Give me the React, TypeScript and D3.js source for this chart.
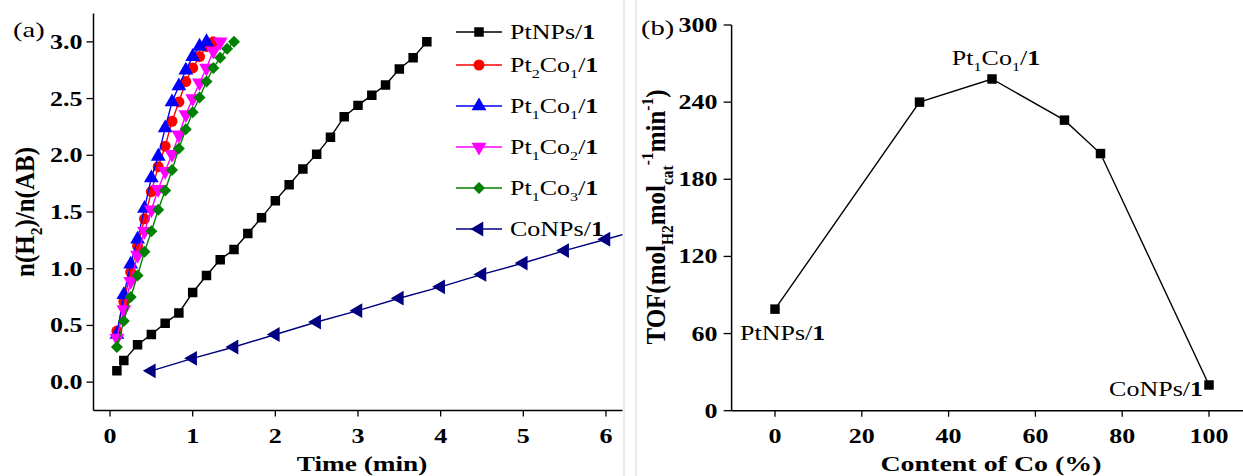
import * as d3 from "d3";
import type { ReactNode } from "react";

const W = 1243;
const H = 476;
const FONT = "'Liberation Serif', 'Times New Roman', serif";
const STRETCH = 1.3; // the source figure is stretched horizontally
const STRETCH_ROT = 1.1; // rotated titles look less squashed

// ---- panel (a): n(H2)/n(AB) vs time ----
const timeFast = [0.083, 0.167, 0.25, 0.333, 0.417, 0.5, 0.583, 0.667, 0.75, 0.833, 0.917, 1.0, 1.083, 1.167, 1.25, 1.333, 1.417, 1.5];
const timePt = [0.083, 0.167, 0.333, 0.5, 0.667, 0.833, 1.0, 1.167, 1.333, 1.5, 1.667, 1.833, 2.0, 2.167, 2.333, 2.5, 2.667, 2.833, 3.0, 3.167, 3.333, 3.5, 3.667, 3.833];
const timeCo = [0.5, 1.0, 1.5, 2.0, 2.5, 3.0, 3.5, 4.0, 4.5, 5.0, 5.5, 6.0, 6.5];

const ptNPs = [0.1, 0.19, 0.33, 0.42, 0.52, 0.61, 0.79, 0.94, 1.08, 1.17, 1.31, 1.45, 1.6, 1.74, 1.88, 2.01, 2.16, 2.34, 2.44, 2.53, 2.62, 2.76, 2.86, 3.0];
const pt2co1 = [0.45, 0.71, 0.97, 1.2, 1.44, 1.68, 1.9, 2.08, 2.3, 2.47, 2.65, 2.77, 2.87, 2.96, 3.0];
const pt1co1 = [0.42, 0.77, 1.04, 1.26, 1.53, 1.8, 1.99, 2.24, 2.47, 2.61, 2.75, 2.87, 2.96, 3.0];
const pt1co2 = [0.39, 0.64, 0.89, 1.12, 1.33, 1.52, 1.7, 1.86, 2.01, 2.18, 2.36, 2.5, 2.64, 2.77, 2.92, 3.0];
const pt1co3 = [0.31, 0.54, 0.75, 0.94, 1.15, 1.33, 1.52, 1.69, 1.87, 2.06, 2.23, 2.38, 2.51, 2.65, 2.77, 2.86, 2.94, 3.0];
const coNPs = [0.1, 0.21, 0.31, 0.42, 0.53, 0.63, 0.74, 0.84, 0.95, 1.05, 1.16, 1.26, 1.36];

const xTicksA = [0, 1, 2, 3, 4, 5, 6];
const yTicksA = [0, 0.5, 1.0, 1.5, 2.0, 2.5, 3.0];

// ---- panel (b): TOF vs Co content ----
const coContent = [0, 33.3, 50, 66.7, 75, 100];
const tof = [79, 240, 258, 226, 200, 20];
const xTicksB = [0, 20, 40, 60, 80, 100];
const yTicksB = [0, 60, 120, 180, 240, 300];

type Part = [string, ("sub" | "sup" | "b")?];

const series = [
  { label: [["PtNPs/"], ["1", "b"]] as Part[], color: "#000000", shape: "square", t: timePt, v: ptNPs },
  { label: [["Pt"], ["2", "sub"], ["Co"], ["1", "sub"], ["/"], ["1", "b"]] as Part[], color: "#ff0000", shape: "circle", t: timeFast, v: pt2co1 },
  { label: [["Pt"], ["1", "sub"], ["Co"], ["1", "sub"], ["/"], ["1", "b"]] as Part[], color: "#0000ff", shape: "up", t: timeFast, v: pt1co1 },
  { label: [["Pt"], ["1", "sub"], ["Co"], ["2", "sub"], ["/"], ["1", "b"]] as Part[], color: "#ff00ff", shape: "down", t: timeFast, v: pt1co2 },
  { label: [["Pt"], ["1", "sub"], ["Co"], ["3", "sub"], ["/"], ["1", "b"]] as Part[], color: "#008000", shape: "diamond", t: timeFast, v: pt1co3 },
  { label: [["CoNPs/"], ["1", "b"]] as Part[], color: "#000080", shape: "left", t: timeCo, v: coNPs },
];

const markerPath = (shape: string) => {
  if (shape === "square") return { d: d3.symbol().type(d3.symbolSquare).size(90)()!, rot: 0 };
  if (shape === "circle") return { d: d3.symbol().type(d3.symbolCircle).size(95)()!, rot: 0 };
  if (shape === "diamond") return { d: d3.symbol().type(d3.symbolSquare).size(72)()!, rot: 45 };
  const tri = d3.symbol().type(d3.symbolTriangle).size(95)()!;
  if (shape === "down") return { d: tri, rot: 180 };
  if (shape === "left") return { d: tri, rot: -90 };
  return { d: tri, rot: 0 };
};

// rich text: subscripts, superscripts, bold bits
function Rich({ parts, size, bold = false }: { parts: Part[]; size: number; bold?: boolean }) {
  let cur = 0;
  return (
    <>
      {parts.map(([txt, kind], i) => {
        const target = kind === "sub" ? size * 0.3 : kind === "sup" ? -size * 0.42 : 0;
        const dy = target - cur;
        cur = target;
        return (
          <tspan
            key={i}
            dy={dy}
            fontSize={kind === "sub" || kind === "sup" ? size * 0.62 : size}
            fontWeight={kind === "b" || bold ? "bold" : "normal"}
          >
            {txt}
          </tspan>
        );
      })}
    </>
  );
}

// text placed at (x, y), stretched horizontally like the source image
function T({
  x, y, size, anchor = "start", bold = false, rotate = false, dy, children,
}: {
  x: number; y: number; size: number; anchor?: string; bold?: boolean; rotate?: boolean; dy?: string; children: ReactNode;
}) {
  const tf = rotate
    ? `translate(${x},${y}) rotate(-90) scale(1,${STRETCH_ROT})`
    : `translate(${x},${y}) scale(${STRETCH},1)`;
  return (
    <text transform={tf} textAnchor={anchor} fontSize={size} fontWeight={bold ? "bold" : "normal"} dy={dy}>
      {children}
    </text>
  );
}

export default function App() {
  // panel (a) scales
  const xA = d3.scaleLinear().domain([-0.2, 6.2]).range([93.5, 622.5]);
  const yA = d3.scaleLinear().domain([-0.25, 3.25]).range([410.5, 13.5]);
  // panel (b) scales
  const xB = d3.scaleLinear().domain([-10, 110]).range([731.6, 1252.4]);
  const yB = d3.scaleLinear().domain([0, 300]).range([410.7, 25]);

  const lineA = d3.line<[number, number]>().x((d) => xA(d[0])).y((d) => yA(d[1]));
  const lineB = d3.line<[number, number]>().x((d) => xB(d[0])).y((d) => yB(d[1]));

  const legendX = 456;
  const legendRowY = (i: number) => 32 + i * 41 - (i > 0 ? 8 : 0);
  const sq = markerPath("square");
  const tickSize = 20;
  const labSize = 21;

  return (
    <svg
      width={W}
      height={H}
      style={{ position: "absolute", left: 0, top: 0, background: "#fff" }}
      fontFamily={FONT}
    >
      <rect width={W} height={H} fill="#fff" />
      {/* sub-figure borders */}
      <line x1={624} x2={624} y1={0} y2={H} stroke="#d8d8d8" strokeWidth={1} />
      <line x1={636} x2={636} y1={0} y2={H} stroke="#d8d8d8" strokeWidth={1} />

      {/* ===== panel (a) ===== */}
      <defs>
        <clipPath id="clipA">
          <rect x={xA(-0.2)} y={yA(3.25)} width={xA(6.2) - xA(-0.2)} height={yA(-0.25) - yA(3.25)} />
        </clipPath>
      </defs>
      <T x={13} y={37} size={22}>(a)</T>

      <g clipPath="url(#clipA)">
        {series.map((s, i) => {
          const pts = s.t.map((t, j) => [t, s.v[j]] as [number, number]);
          const m = markerPath(s.shape);
          return (
            <g key={i}>
              <path d={lineA(pts)!} fill="none" stroke={s.color} strokeWidth={1.4} />
              {pts.map((p, j) => (
                <path
                  key={j}
                  d={m.d}
                  fill={s.color}
                  transform={`translate(${xA(p[0])},${yA(p[1])}) rotate(${m.rot})`}
                />
              ))}
            </g>
          );
        })}
      </g>

      {/* axes (a) */}
      <line x1={xA(-0.2)} x2={xA(-0.2)} y1={yA(3.25)} y2={yA(-0.25)} stroke="#000" strokeWidth={1.5} />
      <line x1={xA(-0.2)} x2={xA(6.2)} y1={yA(-0.25)} y2={yA(-0.25)} stroke="#000" strokeWidth={1.5} />
      {yTicksA.map((v) => (
        <g key={v}>
          <line x1={xA(-0.2) - 7} x2={xA(-0.2)} y1={yA(v)} y2={yA(v)} stroke="#000" strokeWidth={1.3} />
          <T x={xA(-0.2) - 11} y={yA(v)} dy="0.35em" anchor="end" size={tickSize} bold>
            {v.toFixed(1)}
          </T>
        </g>
      ))}
      {xTicksA.map((v) => (
        <g key={v}>
          <line x1={xA(v)} x2={xA(v)} y1={yA(-0.25)} y2={yA(-0.25) + 6} stroke="#000" strokeWidth={1.3} />
          <T x={xA(v)} y={443} anchor="middle" size={tickSize} bold>
            {v}
          </T>
        </g>
      ))}
      <T x={362} y={471} anchor="middle" size={labSize} bold>Time (min)</T>
      <T x={34} y={212} anchor="middle" size={25} rotate>
        <Rich parts={[["n(H"], ["2", "sub"], [")/n(AB)"]]} size={25} bold />
      </T>

      {/* legend (a) */}
      {series.map((s, i) => {
        const y = legendRowY(i);
        const m = markerPath(s.shape);
        return (
          <g key={i}>
            <line x1={legendX} x2={legendX + 46} y1={y} y2={y} stroke={s.color} strokeWidth={1.4} />
            <path d={m.d} fill={s.color} transform={`translate(${legendX + 23},${y}) rotate(${m.rot})`} />
            <T x={legendX + 54} y={y + 7} size={20}>
              <Rich parts={s.label} size={20} />
            </T>
          </g>
        );
      })}

      {/* ===== panel (b) ===== */}
      <T x={641} y={35} size={22}>(b)</T>
      <path
        d={lineB(coContent.map((c, i) => [c, tof[i]] as [number, number]))!}
        fill="none"
        stroke="#000"
        strokeWidth={1.4}
      />
      {coContent.map((c, i) => (
        <path key={i} d={sq.d} fill="#000" transform={`translate(${xB(c)},${yB(tof[i])})`} />
      ))}

      <line x1={xB(-10)} x2={xB(-10)} y1={yB(300)} y2={yB(0)} stroke="#000" strokeWidth={1.5} />
      <line x1={xB(-10)} x2={W} y1={yB(0)} y2={yB(0)} stroke="#000" strokeWidth={1.5} />
      {yTicksB.map((v) => (
        <g key={v}>
          <line x1={xB(-10) - 8} x2={xB(-10)} y1={yB(v)} y2={yB(v)} stroke="#000" strokeWidth={1.3} />
          <T x={xB(-10) - 14} y={yB(v)} dy="0.35em" anchor="end" size={tickSize} bold>
            {v}
          </T>
        </g>
      ))}
      {xTicksB.map((v) => (
        <g key={v}>
          <line x1={xB(v)} x2={xB(v)} y1={yB(0)} y2={yB(0) + 6} stroke="#000" strokeWidth={1.3} />
          <T x={xB(v)} y={443} anchor="middle" size={tickSize} bold>
            {v}
          </T>
        </g>
      ))}
      <T x={991} y={471} anchor="middle" size={21.5} bold>Content of Co (%)</T>
      <T x={665} y={217} anchor="middle" size={25} rotate>
        <Rich
          parts={[["TOF(mol"], ["H2", "sub"], ["mol"], ["cat", "sub"], ["-1", "sup"], ["min"], ["-1", "sup"], [")"]]}
          size={25}
          bold
        />
      </T>

      {/* point annotations (b) */}
      <T x={xB(coContent[0]) - 35} y={yB(tof[0]) + 31} size={20}>
        <Rich parts={[["PtNPs/"], ["1", "b"]]} size={20} />
      </T>
      <T x={xB(coContent[2]) + 4} y={yB(tof[2]) - 14} size={20} anchor="middle">
        <Rich parts={[["Pt"], ["1", "sub"], ["Co"], ["1", "sub"], ["/"], ["1", "b"]]} size={20} />
      </T>
      <T x={xB(coContent[5]) - 6} y={yB(tof[5]) + 11} size={20} anchor="end">
        <Rich parts={[["CoNPs/"], ["1", "b"]]} size={20} />
      </T>
    </svg>
  );
}
